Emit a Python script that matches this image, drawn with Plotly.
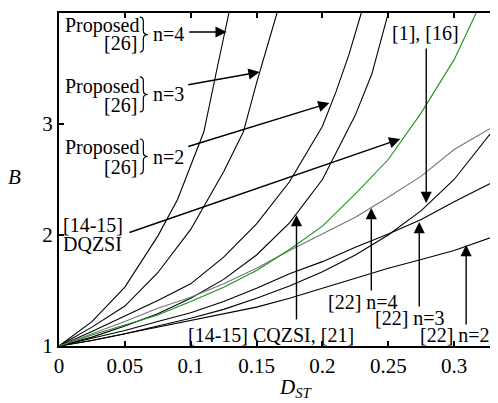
import plotly.graph_objects as go

# ---------------- data ----------------
D_prop_n4 = [0, 0.025, 0.05, 0.075, 0.09, 0.1, 0.11, 0.12, 0.129]
B_prop_n4 = [1, 1.22, 1.53, 1.99, 2.32, 2.62, 2.93, 3.50, 4.0]

D_prop_n3 = [0, 0.025, 0.05, 0.075, 0.1, 0.125, 0.14, 0.15, 0.1655]
B_prop_n3 = [1, 1.17, 1.36, 1.66, 2.05, 2.57, 2.93, 3.37, 4.0]

D_prop_n2 = [0, 0.025, 0.05, 0.075, 0.1, 0.125, 0.15, 0.175, 0.2, 0.21, 0.22, 0.2295]
B_prop_n2 = [1, 1.13, 1.27, 1.41, 1.56, 1.80, 2.10, 2.48, 2.98, 3.28, 3.62, 4.0]

D_cqzsi = [0, 0.025, 0.05, 0.075, 0.1, 0.125, 0.15, 0.175, 0.2, 0.225, 0.2375, 0.25]
B_cqzsi = [1, 1.08, 1.18, 1.29, 1.43, 1.60, 1.82, 2.11, 2.50, 3.08, 3.45, 4.0]

D_dqzsi = [0, 0.025, 0.05, 0.075, 0.1, 0.125, 0.15, 0.175, 0.2, 0.225, 0.25, 0.275, 0.3, 0.3167]
B_dqzsi = [1, 1.10, 1.19, 1.28, 1.40, 1.53, 1.68, 1.87, 2.08, 2.37, 2.68, 3.10, 3.58, 4.0]

D_full = [0, 0.025, 0.05, 0.075, 0.1, 0.125, 0.15, 0.175, 0.2, 0.225, 0.25, 0.275, 0.3, 0.3333]
B_ref1_16 = [1, 1.05, 1.11, 1.18, 1.25, 1.33, 1.43, 1.54, 1.67, 1.82, 2.0, 2.22, 2.50, 3.0]
B_ref22_n4 = [1, 1.11, 1.22, 1.34, 1.44, 1.56, 1.70, 1.86, 2.01, 2.16, 2.34, 2.53, 2.77, 3.0]
B_ref22_n3 = [1, 1.07, 1.14, 1.22, 1.30, 1.40, 1.52, 1.65, 1.76, 1.89, 2.01, 2.14, 2.30, 2.50]
B_ref22_n2 = [1, 1.05, 1.11, 1.17, 1.23, 1.29, 1.35, 1.43, 1.52, 1.61, 1.70, 1.78, 1.86, 2.0]

x_ticks = [0, 0.05, 0.1, 0.15, 0.2, 0.25, 0.3]
x_ticktext = ["0", "0.05", "0.1", "0.15", "0.2", "0.25", "0.3"]
y_ticks = [1, 2, 3, 4]
y_ticktext = ["1", "2", "3", "4"]

# ---------------- layout constants ----------------
OFF = 8                      # page body margin of the html page
W, H = 498 - OFF, 403 - OFF
ML, MR, MT, MB = 59 - OFF, 0, 13 - OFF, 57
PW, PH = W - ML - MR, H - MT - MB
XR = [0, 0.3333]
YR = [1, 4]
FONT = '"Liberation Serif", "Times New Roman", Times, serif'
BLACK = "#000000"
GRAY = "#767676"
GREEN = "#1f8f1f"


def to_px(d, b):
    px = ML + (d - XR[0]) / (XR[1] - XR[0]) * PW
    py = MT + (YR[1] - b) / (YR[1] - YR[0]) * PH
    return px, py


def to_paper(px, py):
    return (px - ML) / PW, (H - MB - py) / PH


def ref_paper(px, py):
    # picture pixel (with page offset) -> paper coordinate
    return to_paper(px - OFF, py - OFF)


fig = go.Figure()

series = [
    (D_prop_n4, B_prop_n4, BLACK),
    (D_prop_n3, B_prop_n3, BLACK),
    (D_prop_n2, B_prop_n2, BLACK),
    (D_cqzsi, B_cqzsi, BLACK),
    (D_full, B_ref1_16, BLACK),
    (D_full, B_ref22_n3, BLACK),
    (D_full, B_ref22_n2, BLACK),
    (D_full, B_ref22_n4, GRAY),
    (D_dqzsi, B_dqzsi, GREEN),
]
for xs, ys, col in series:
    fig.add_trace(go.Scatter(x=xs, y=ys, mode="lines",
                             line=dict(color=col, width=1.1),
                             showlegend=False, hoverinfo="skip"))

# ---------------- text labels ----------------
labels = [
    # text, x, y, xanchor
    ("Proposed", 0.0614, 3.883, "right"),
    ("[26]", 0.0598, 3.730, "right"),
    ("n=4", 0.0705, 3.811, "left"),
    ("Proposed", 0.0614, 3.342, "right"),
    ("[26]", 0.0598, 3.171, "right"),
    ("n=3", 0.0705, 3.270, "left"),
    ("Proposed", 0.0614, 2.784, "right"),
    ("[26]", 0.0598, 2.613, "right"),
    ("n=2", 0.0705, 2.703, "left"),
    ("[14-15]", 0.0023, 2.090, "left"),
    ("DQZSI", 0.0023, 1.919, "left"),
    ("[1], [16]", 0.2523, 3.820, "left"),
    ("[14-15] CQZSI, [21]", 0.0970, 1.099, "left"),
    ("[22] n=4", 0.2038, 1.396, "left"),
    ("[22] n=3", 0.2394, 1.252, "left"),
    ("[22] n=2", 0.2735, 1.099, "left"),
]
for txt, x, y, xa in labels:
    fig.add_annotation(x=x, y=y, xref="x", yref="y", text=txt, showarrow=False,
                       xanchor=xa, yanchor="middle", borderpad=0,
                       font=dict(family=FONT, size=20, color=BLACK))

# ---------------- arrows (tail -> tip) ----------------
arrows = [
    ((0.0977, 3.829), (0.1273, 3.829)),
    ((0.0970, 3.351), (0.1523, 3.468)),
    ((0.0970, 2.793), (0.2053, 3.189)),
    ((0.0523, 2.018), (0.2591, 2.865)),
    ((0.2788, 3.694), (0.2788, 2.288)),
    ((0.1803, 1.225), (0.1803, 2.180)),
    ((0.2371, 1.486), (0.2371, 2.243)),
    ((0.2735, 1.342), (0.2735, 2.117)),
    ((0.3091, 1.180), (0.3091, 1.910)),
]
for (tx, ty), (hx, hy) in arrows:
    fig.add_annotation(x=hx, y=hy, ax=tx, ay=ty, xref="x", yref="y",
                       axref="x", ayref="y", text="", showarrow=True,
                       arrowhead=2, arrowsize=1.6, arrowwidth=1.4,
                       arrowcolor=BLACK, standoff=0, startstandoff=0)

# ---------------- braces ----------------
brace_centers = [(0.0644, 3.806), (0.0644, 3.266), (0.0644, 2.707)]
for bx, by in brace_centers:
    cx, cy = to_px(bx, by)
    hh, w = 17.5, 8
    x0 = cx - w / 2
    xm = x0 + 3.5
    pts_cmd = [
        ("M", [(x0, cy - hh)]),
        ("Q", [(xm, cy - hh), (xm, cy - hh + 4)]),
        ("L", [(xm, cy - 4)]),
        ("Q", [(xm, cy), (x0 + w, cy)]),
        ("Q", [(xm, cy), (xm, cy + 4)]),
        ("L", [(xm, cy + hh - 4)]),
        ("Q", [(xm, cy + hh), (x0, cy + hh)]),
    ]
    path = ""
    for cmd, pts in pts_cmd:
        path += cmd + " " + " ".join("%.5f,%.5f" % to_paper(px, py) for px, py in pts) + " "
    fig.add_shape(type="path", path=path.strip(), xref="paper", yref="paper",
                  line=dict(color=BLACK, width=1.2))

# mirrored right-side ticks (right axis line lies just outside the picture)
for yt in y_ticks[1:-1]:
    fig.add_shape(type="line", xref="paper", yref="y", x0=1 - 5 / PW, x1=1,
                  y0=yt, y1=yt, line=dict(color=BLACK, width=1.5))

# axis titles
bx_p, by_p = ref_paper(14, 177)
fig.add_annotation(x=bx_p, y=by_p, xref="paper", yref="paper",
                   text="<i>B</i>", showarrow=False, xanchor="center", yanchor="middle",
                   font=dict(family=FONT, size=21, color=BLACK))
dx_p, dy_p = ref_paper(296, 388)
fig.add_annotation(x=dx_p, y=dy_p, xref="paper", yref="paper",
                   text="<i>D</i><sub><i>ST</i></sub>", showarrow=False,
                   xanchor="center", yanchor="middle",
                   font=dict(family=FONT, size=21, color=BLACK))

axis_common = dict(showgrid=False, zeroline=False, showline=True, linewidth=2,
                   linecolor=BLACK, ticks="inside", ticklen=5, tickwidth=1.5,
                   tickcolor=BLACK, tickfont=dict(family=FONT, size=21, color=BLACK))
fig.update_xaxes(range=XR, tickvals=x_ticks, ticktext=x_ticktext,
                 mirror="ticks", **axis_common)
fig.update_yaxes(range=YR, tickvals=y_ticks, ticktext=y_ticktext,
                 mirror=False, **axis_common)

fig.update_layout(width=W, height=H, margin=dict(l=ML, r=MR, t=MT, b=MB, pad=0),
                  paper_bgcolor="white", plot_bgcolor="white",
                  font=dict(family=FONT, color=BLACK))

fig.write_html("out.html")
